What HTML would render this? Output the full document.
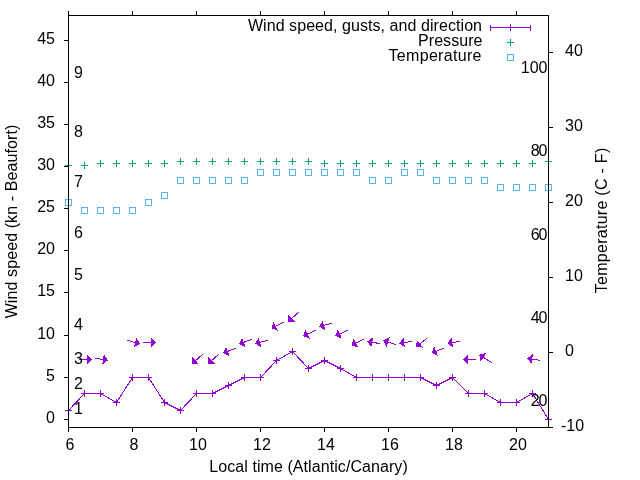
<!DOCTYPE html>
<html><head><meta charset="utf-8"><style>html,body{margin:0;padding:0;background:#fff;width:640px;height:480px;overflow:hidden}svg{display:block;will-change:transform}</style></head>
<body><svg width="640" height="480" viewBox="0 0 640 480"><g stroke="#009e73" stroke-width="1" fill="none" shape-rendering="crispEdges">
<path d="M65.0 165.5H72.0M68.5 162.0V169.0"/>
<path d="M81.0 165.5H88.0M84.5 162.0V169.0"/>
<path d="M97.0 163.5H104.0M100.5 160.0V167.0"/>
<path d="M113.0 163.5H120.0M116.5 160.0V167.0"/>
<path d="M129.0 163.5H136.0M132.5 160.0V167.0"/>
<path d="M145.0 163.5H152.0M148.5 160.0V167.0"/>
<path d="M161.0 163.5H168.0M164.5 160.0V167.0"/>
<path d="M177.0 161.5H184.0M180.5 158.0V165.0"/>
<path d="M193.0 161.5H200.0M196.5 158.0V165.0"/>
<path d="M209.0 161.5H216.0M212.5 158.0V165.0"/>
<path d="M225.0 161.5H232.0M228.5 158.0V165.0"/>
<path d="M241.0 161.5H248.0M244.5 158.0V165.0"/>
<path d="M257.0 161.5H264.0M260.5 158.0V165.0"/>
<path d="M273.0 161.5H280.0M276.5 158.0V165.0"/>
<path d="M289.0 161.5H296.0M292.5 158.0V165.0"/>
<path d="M305.0 161.5H312.0M308.5 158.0V165.0"/>
<path d="M321.0 163.5H328.0M324.5 160.0V167.0"/>
<path d="M337.0 163.5H344.0M340.5 160.0V167.0"/>
<path d="M353.0 163.5H360.0M356.5 160.0V167.0"/>
<path d="M369.0 163.5H376.0M372.5 160.0V167.0"/>
<path d="M385.0 163.5H392.0M388.5 160.0V167.0"/>
<path d="M401.0 163.5H408.0M404.5 160.0V167.0"/>
<path d="M417.0 163.5H424.0M420.5 160.0V167.0"/>
<path d="M433.0 163.5H440.0M436.5 160.0V167.0"/>
<path d="M449.0 163.5H456.0M452.5 160.0V167.0"/>
<path d="M465.0 163.5H472.0M468.5 160.0V167.0"/>
<path d="M481.0 163.5H488.0M484.5 160.0V167.0"/>
<path d="M497.0 163.5H504.0M500.5 160.0V167.0"/>
<path d="M513.0 163.5H520.0M516.5 160.0V167.0"/>
<path d="M529.0 163.5H536.0M532.5 160.0V167.0"/>
<path d="M545.0 161.5H552.0M548.5 158.0V165.0"/>
</g>
<g stroke="#56b4e9" stroke-width="1" fill="none" shape-rendering="crispEdges">
<rect x="65.5" y="199.5" width="6" height="6"/>
<rect x="81.5" y="207.5" width="6" height="6"/>
<rect x="97.5" y="207.5" width="6" height="6"/>
<rect x="113.5" y="207.5" width="6" height="6"/>
<rect x="129.5" y="207.5" width="6" height="6"/>
<rect x="145.5" y="199.5" width="6" height="6"/>
<rect x="161.5" y="192.5" width="6" height="6"/>
<rect x="177.5" y="177.5" width="6" height="6"/>
<rect x="193.5" y="177.5" width="6" height="6"/>
<rect x="209.5" y="177.5" width="6" height="6"/>
<rect x="225.5" y="177.5" width="6" height="6"/>
<rect x="241.5" y="177.5" width="6" height="6"/>
<rect x="257.5" y="169.5" width="6" height="6"/>
<rect x="273.5" y="169.5" width="6" height="6"/>
<rect x="289.5" y="169.5" width="6" height="6"/>
<rect x="305.5" y="169.5" width="6" height="6"/>
<rect x="321.5" y="169.5" width="6" height="6"/>
<rect x="337.5" y="169.5" width="6" height="6"/>
<rect x="353.5" y="169.5" width="6" height="6"/>
<rect x="369.5" y="177.5" width="6" height="6"/>
<rect x="385.5" y="177.5" width="6" height="6"/>
<rect x="401.5" y="169.5" width="6" height="6"/>
<rect x="417.5" y="169.5" width="6" height="6"/>
<rect x="433.5" y="177.5" width="6" height="6"/>
<rect x="449.5" y="177.5" width="6" height="6"/>
<rect x="465.5" y="177.5" width="6" height="6"/>
<rect x="481.5" y="177.5" width="6" height="6"/>
<rect x="497.5" y="184.5" width="6" height="6"/>
<rect x="513.5" y="184.5" width="6" height="6"/>
<rect x="529.5" y="184.5" width="6" height="6"/>
<rect x="545.5" y="184.5" width="6" height="6"/>
</g>
<g stroke="#9400d3" stroke-width="1" fill="none" shape-rendering="crispEdges">
<polyline points="68.5,410.5 84.5,393.5 100.5,393.5 116.5,402.5 132.5,377.5 148.5,377.5 164.5,402.5 180.5,410.5 196.5,393.5 212.5,393.5 228.5,385.5 244.5,377.5 260.5,377.5 276.5,360.5 292.5,351.5 308.5,368.5 324.5,360.5 340.5,368.5 356.5,377.5 372.5,377.5 388.5,377.5 404.5,377.5 420.5,377.5 436.5,385.5 452.5,377.5 468.5,393.5 484.5,393.5 500.5,402.5 516.5,402.5 532.5,393.5 548.5,419.5"/>
<path d="M65.0 410.5H72.0M68.5 407.0V414.0"/>
<path d="M81.0 393.5H88.0M84.5 390.0V397.0"/>
<path d="M97.0 393.5H104.0M100.5 390.0V397.0"/>
<path d="M113.0 402.5H120.0M116.5 399.0V406.0"/>
<path d="M129.0 377.5H136.0M132.5 374.0V381.0"/>
<path d="M145.0 377.5H152.0M148.5 374.0V381.0"/>
<path d="M161.0 402.5H168.0M164.5 399.0V406.0"/>
<path d="M177.0 410.5H184.0M180.5 407.0V414.0"/>
<path d="M193.0 393.5H200.0M196.5 390.0V397.0"/>
<path d="M209.0 393.5H216.0M212.5 390.0V397.0"/>
<path d="M225.0 385.5H232.0M228.5 382.0V389.0"/>
<path d="M241.0 377.5H248.0M244.5 374.0V381.0"/>
<path d="M257.0 377.5H264.0M260.5 374.0V381.0"/>
<path d="M273.0 360.5H280.0M276.5 357.0V364.0"/>
<path d="M289.0 351.5H296.0M292.5 348.0V355.0"/>
<path d="M305.0 368.5H312.0M308.5 365.0V372.0"/>
<path d="M321.0 360.5H328.0M324.5 357.0V364.0"/>
<path d="M337.0 368.5H344.0M340.5 365.0V372.0"/>
<path d="M353.0 377.5H360.0M356.5 374.0V381.0"/>
<path d="M369.0 377.5H376.0M372.5 374.0V381.0"/>
<path d="M385.0 377.5H392.0M388.5 374.0V381.0"/>
<path d="M401.0 377.5H408.0M404.5 374.0V381.0"/>
<path d="M417.0 377.5H424.0M420.5 374.0V381.0"/>
<path d="M433.0 385.5H440.0M436.5 382.0V389.0"/>
<path d="M449.0 377.5H456.0M452.5 374.0V381.0"/>
<path d="M465.0 393.5H472.0M468.5 390.0V397.0"/>
<path d="M481.0 393.5H488.0M484.5 390.0V397.0"/>
<path d="M497.0 402.5H504.0M500.5 399.0V406.0"/>
<path d="M513.0 402.5H520.0M516.5 399.0V406.0"/>
<path d="M529.0 393.5H536.0M532.5 390.0V397.0"/>
<path d="M545.0 419.5H552.0M548.5 416.0V423.0"/>
</g>
<g stroke="#9400d3" fill="#9400d3" stroke-width="1" shape-rendering="crispEdges">
<path d="M79.00 359.40L87.10 359.40" fill="none"/>
<path d="M92.10 359.40L87.10 364.40L87.10 354.40Z" stroke="none"/>
<path d="M95.00 358.30L103.05 359.48" fill="none"/>
<path d="M108.00 360.20L102.33 364.42L103.78 354.53Z" stroke="none"/>
<path d="M127.00 340.20L135.10 342.59" fill="none"/>
<path d="M139.90 344.00L133.69 347.38L136.52 337.79Z" stroke="none"/>
<path d="M143.00 342.30L150.90 342.30" fill="none"/>
<path d="M155.90 342.30L150.90 347.30L150.90 337.30Z" stroke="none"/>
<path d="M202.80 354.25L195.67 360.46" fill="none"/>
<path d="M191.90 363.75L192.38 356.70L198.95 364.23Z" stroke="none"/>
<path d="M218.75 354.25L211.83 360.42" fill="none"/>
<path d="M208.10 363.75L208.50 356.69L215.16 364.15Z" stroke="none"/>
<path d="M235.60 348.40L227.79 351.27" fill="none"/>
<path d="M223.10 353.00L226.07 346.58L229.52 355.97Z" stroke="none"/>
<path d="M251.60 339.40L243.79 342.27" fill="none"/>
<path d="M239.10 344.00L242.07 337.58L245.52 346.97Z" stroke="none"/>
<path d="M267.70 340.20L260.01 342.35" fill="none"/>
<path d="M255.20 343.70L258.67 337.54L261.36 347.17Z" stroke="none"/>
<path d="M283.75 322.20L275.73 326.18" fill="none"/>
<path d="M271.25 328.40L273.51 321.70L277.95 330.66Z" stroke="none"/>
<path d="M298.75 312.20L291.76 318.31" fill="none"/>
<path d="M288.00 321.60L288.47 314.54L295.06 322.07Z" stroke="none"/>
<path d="M315.80 330.20L307.54 334.01" fill="none"/>
<path d="M303.00 336.10L305.45 329.47L309.63 338.55Z" stroke="none"/>
<path d="M331.70 323.25L324.02 325.37" fill="none"/>
<path d="M319.20 326.70L322.69 320.55L325.35 330.19Z" stroke="none"/>
<path d="M348.00 330.20L339.85 333.92" fill="none"/>
<path d="M335.30 336.00L337.77 329.37L341.93 338.47Z" stroke="none"/>
<path d="M363.75 339.20L355.90 343.02" fill="none"/>
<path d="M351.40 345.20L353.71 338.52L358.08 347.51Z" stroke="none"/>
<path d="M379.90 343.60L372.23 342.26" fill="none"/>
<path d="M367.30 341.40L373.09 337.33L371.37 347.19Z" stroke="none"/>
<path d="M395.60 344.50L388.15 342.06" fill="none"/>
<path d="M383.40 340.50L389.71 337.31L386.59 346.81Z" stroke="none"/>
<path d="M411.90 341.40L404.14 342.56" fill="none"/>
<path d="M399.20 343.30L403.41 337.62L404.88 347.51Z" stroke="none"/>
<path d="M426.90 338.25L420.00 343.77" fill="none"/>
<path d="M416.10 346.90L416.88 339.87L423.13 347.68Z" stroke="none"/>
<path d="M443.70 348.30L436.17 351.20" fill="none"/>
<path d="M431.50 353.00L434.37 346.54L437.96 355.87Z" stroke="none"/>
<path d="M459.90 341.40L452.24 342.55" fill="none"/>
<path d="M447.30 343.30L451.50 337.61L452.99 347.50Z" stroke="none"/>
<path d="M475.80 359.50L468.00 359.50" fill="none"/>
<path d="M463.00 359.50L468.00 354.50L468.00 364.50Z" stroke="none"/>
<path d="M491.70 362.60L483.41 357.30" fill="none"/>
<path d="M479.20 354.60L486.11 353.08L480.72 361.51Z" stroke="none"/>
<path d="M539.90 360.30L532.14 359.05" fill="none"/>
<path d="M527.20 358.25L532.93 354.11L531.34 363.98Z" stroke="none"/>
</g>
<g stroke="#9400d3" stroke-width="1" fill="none" shape-rendering="crispEdges">
<path d="M490.5 27.5H531M490.5 24.5V30.5M530.5 24.5V30.5M510.5 24V31"/>
</g>
<path d="M507 42.5H514M510.5 39V46" stroke="#009e73" stroke-width="1" fill="none" shape-rendering="crispEdges"/>
<rect x="507.5" y="54.5" width="6" height="6" stroke="#56b4e9" stroke-width="1" fill="none" shape-rendering="crispEdges"/>
<g style="font-family:'Liberation Sans',sans-serif;font-size:16px" fill="#000">
<text x="70.0" y="450" text-anchor="middle">6</text>
<text x="134.0" y="450" text-anchor="middle">8</text>
<text x="198.0" y="450" text-anchor="middle">10</text>
<text x="262.0" y="450" text-anchor="middle">12</text>
<text x="326.0" y="450" text-anchor="middle">14</text>
<text x="390.0" y="450" text-anchor="middle">16</text>
<text x="454.0" y="450" text-anchor="middle">18</text>
<text x="518.0" y="450" text-anchor="middle">20</text>
<text x="55" y="423.0" text-anchor="end">0</text>
<text x="55" y="381.0" text-anchor="end">5</text>
<text x="55" y="339.0" text-anchor="end">10</text>
<text x="55" y="296.0" text-anchor="end">15</text>
<text x="55" y="254.0" text-anchor="end">20</text>
<text x="55" y="212.0" text-anchor="end">25</text>
<text x="55" y="170.0" text-anchor="end">30</text>
<text x="55" y="128.0" text-anchor="end">35</text>
<text x="55" y="86.0" text-anchor="end">40</text>
<text x="55" y="44.0" text-anchor="end">45</text>
<text x="561" y="431.0" text-anchor="start">-10</text>
<text x="565" y="356.0" text-anchor="start">0</text>
<text x="565" y="281.0" text-anchor="start">10</text>
<text x="565" y="206.0" text-anchor="start">20</text>
<text x="565" y="131.0" text-anchor="start">30</text>
<text x="565" y="56.0" text-anchor="start">40</text>
<text x="74" y="414">1</text>
<text x="74" y="389">2</text>
<text x="74" y="364">3</text>
<text x="74" y="330">4</text>
<text x="74" y="280">5</text>
<text x="74" y="238">6</text>
<text x="74" y="187">7</text>
<text x="74" y="137">8</text>
<text x="74" y="78">9</text>
<text x="547.5" y="406" text-anchor="end" textLength="16.8" lengthAdjust="spacing">20</text>
<text x="547.5" y="323" text-anchor="end" textLength="16.8" lengthAdjust="spacing">40</text>
<text x="547.5" y="240" text-anchor="end" textLength="16.8" lengthAdjust="spacing">60</text>
<text x="547.5" y="156" text-anchor="end" textLength="16.8" lengthAdjust="spacing">80</text>
<text x="547.5" y="73" text-anchor="end">100</text>
<text x="308.5" y="472" text-anchor="middle" textLength="198.5" lengthAdjust="spacing">Local time (Atlantic/Canary)</text>
<text transform="translate(17,221.5) rotate(-90)" text-anchor="middle" textLength="193.7" lengthAdjust="spacing">Wind speed (kn - Beaufort)</text>
<text transform="translate(607,220.5) rotate(-90)" text-anchor="middle" textLength="145.5" lengthAdjust="spacing">Temperature (C - F)</text>
<text x="482" y="31" text-anchor="end" textLength="234.1" lengthAdjust="spacing">Wind speed, gusts, and direction</text>
<text x="482.5" y="46" text-anchor="end" textLength="64.5" lengthAdjust="spacing">Pressure</text>
<text x="481.5" y="61" text-anchor="end" textLength="93" lengthAdjust="spacing">Temperature</text>
</g>
<g stroke="#000" stroke-width="1" shape-rendering="crispEdges" fill="none">
<path d="M68.5 15.5H548.5V427.5H68.5Z"/>
<path d="M68.5 427.5V432M68.5 15.5V11"/>
<path d="M132.5 427.5V432M132.5 15.5V11"/>
<path d="M196.5 427.5V432M196.5 15.5V11"/>
<path d="M260.5 427.5V432M260.5 15.5V11"/>
<path d="M324.5 427.5V432M324.5 15.5V11"/>
<path d="M388.5 427.5V432M388.5 15.5V11"/>
<path d="M452.5 427.5V432M452.5 15.5V11"/>
<path d="M516.5 427.5V432M516.5 15.5V11"/>
<path d="M64 419.5H68.5"/>
<path d="M64 377.5H68.5"/>
<path d="M64 335.5H68.5"/>
<path d="M64 292.5H68.5"/>
<path d="M64 250.5H68.5"/>
<path d="M64 208.5H68.5"/>
<path d="M64 166.5H68.5"/>
<path d="M64 124.5H68.5"/>
<path d="M64 82.5H68.5"/>
<path d="M64 40.5H68.5"/>
<path d="M548.5 427.5H553"/>
<path d="M548.5 352.5H553"/>
<path d="M548.5 277.5H553"/>
<path d="M548.5 202.5H553"/>
<path d="M548.5 127.5H553"/>
<path d="M548.5 52.5H553"/>
</g></svg></body></html>
